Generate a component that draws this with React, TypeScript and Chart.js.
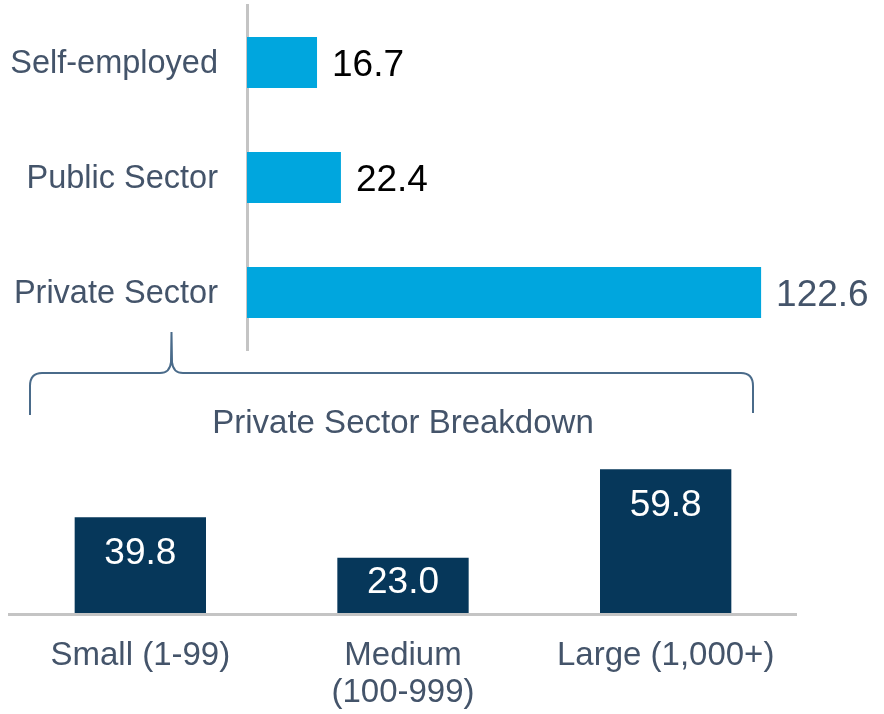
import React, { useEffect, useRef } from "react";
import { Chart, registerables } from "chart.js";

Chart.register(...registerables);

// ---- data ----
const sectorLabels = ["Self-employed", "Public Sector", "Private Sector"];
const sectorValues = [16.7, 22.4, 122.6];
const sectorValueColors = ["#000000", "#000000", "#44546A"];

const breakdownTitle = "Private Sector Breakdown";
const sizeLabels: (string | string[])[] = ["Small (1-99)", ["Medium", "(100-999)"], "Large (1,000+)"];
const sizeValues = [39.8, 23.0, 59.8];

// ---- styles ----
const FONT = "'Liberation Sans', Arial, sans-serif";
const TEXT = "#44546A";
const TOP_BAR = "#00A6DE";
const BOTTOM_BAR = "#06375A";
const AXIS = "#C4C4C4";
const BRACE = "#4A6B8A";
const VALUE_SIZE = 37;

const topValueLabels = {
  id: "topValueLabels",
  afterDatasetsDraw(chart: any) {
    const { ctx } = chart;
    const meta = chart.getDatasetMeta(0);
    ctx.save();
    ctx.font = `${VALUE_SIZE}px ${FONT}`;
    ctx.textAlign = "left";
    ctx.textBaseline = "alphabetic";
    meta.data.forEach((bar: any, i: number) => {
      ctx.fillStyle = sectorValueColors[i];
      ctx.fillText(sectorValues[i].toFixed(1), bar.x + 15, bar.y + VALUE_SIZE * 0.358);
    });
    ctx.restore();
  },
};

const bottomDecor = {
  id: "bottomDecor",
  beforeDatasetsDraw(chart: any) {
    const { ctx, chartArea, scales } = chart;
    const y0 = scales.y.getPixelForValue(0);
    ctx.save();
    ctx.strokeStyle = AXIS;
    ctx.lineWidth = 3;
    ctx.beginPath();
    ctx.moveTo(chartArea.left - 1, y0 + 1.5);
    ctx.lineTo(chartArea.right, y0 + 1.5);
    ctx.stroke();
    ctx.restore();
  },
  afterDatasetsDraw(chart: any) {
    const { ctx } = chart;
    const meta = chart.getDatasetMeta(0);
    ctx.save();
    ctx.font = `${VALUE_SIZE}px ${FONT}`;
    ctx.textAlign = "center";
    ctx.textBaseline = "alphabetic";
    ctx.fillStyle = "#FFFFFF";
    meta.data.forEach((bar: any, i: number) => {
      const h = bar.base - bar.y;
      const cy = bar.y + Math.min(33, h * 0.4);
      ctx.fillText(sizeValues[i].toFixed(1), bar.x, cy + VALUE_SIZE * 0.358);
    });
    ctx.restore();
  },
  afterDraw(chart: any) {
    const { ctx } = chart;
    // curly brace pointing at "Private Sector"
    ctx.save();
    ctx.strokeStyle = BRACE;
    ctx.lineWidth = 2;
    ctx.lineJoin = "round";
    ctx.beginPath();
    ctx.moveTo(30, 95);
    ctx.lineTo(30, 66);
    ctx.quadraticCurveTo(30, 53, 42, 53);
    ctx.lineTo(160, 53);
    ctx.quadraticCurveTo(170, 53, 171, 42);
    ctx.lineTo(171.5, 12);
    ctx.moveTo(171.5, 12);
    ctx.lineTo(172, 42);
    ctx.quadraticCurveTo(173, 53, 183, 53);
    ctx.lineTo(741, 53);
    ctx.quadraticCurveTo(753, 53, 753, 66);
    ctx.lineTo(753, 93);
    ctx.stroke();
    ctx.restore();
  },
};

export default function App() {
  const topRef = useRef<HTMLCanvasElement>(null);
  const botRef = useRef<HTMLCanvasElement>(null);

  useEffect(() => {
    const top = new Chart(topRef.current as HTMLCanvasElement, {
      type: "bar",
      data: {
        labels: sectorLabels,
        datasets: [
          {
            data: sectorValues,
            backgroundColor: TOP_BAR,
            barPercentage: 0.5,
            categoryPercentage: 0.887,
          },
        ],
      },
      options: {
        indexAxis: "y",
        responsive: false,
        animation: false,
        layout: { padding: { top: 5, bottom: 5, left: 0, right: 8 } },
        plugins: { legend: { display: false }, tooltip: { enabled: false } },
        scales: {
          x: { display: false, min: 0, max: 150 },
          y: {
            grid: { display: false, drawTicks: false },
            border: { display: true, color: AXIS, width: 3 },
            ticks: {
              color: TEXT,
              font: { family: FONT, size: 32.5 },
              padding: 29,
              labelOffset: 2,
            },
            afterFit: (s: any) => {
              s.width = 247;
              s.paddingTop = 0;
              s.paddingBottom = 0;
            },
          },
        },
      } as any,
      plugins: [topValueLabels],
    });

    const bottom = new Chart(botRef.current as HTMLCanvasElement, {
      type: "bar",
      data: {
        labels: sizeLabels,
        datasets: [
          {
            data: sizeValues,
            backgroundColor: BOTTOM_BAR,
            barPercentage: 0.5,
            categoryPercentage: 1,
          },
        ],
      },
      options: {
        responsive: false,
        animation: false,
        layout: { padding: { left: 9, right: 87, top: 0, bottom: 0 } },
        plugins: {
          legend: { display: false },
          tooltip: { enabled: false },
          title: {
            display: true,
            text: breakdownTitle,
            fullSize: false,
            color: TEXT,
            font: { family: FONT, size: 33, weight: "normal", lineHeight: 1.2 },
            padding: { top: 84, bottom: 18 },
          },
        },
        scales: {
          x: {
            grid: { display: false, drawTicks: false },
            border: { display: false },
            ticks: {
              color: TEXT,
              font: { family: FONT, size: 33, lineHeight: 1.1 },
              padding: 25,
              maxRotation: 0,
              autoSkip: false,
            },
            afterFit: (s: any) => {
              s.height = 101;
            },
          },
          y: { display: false, min: 0, max: 63 },
        },
      } as any,
      plugins: [bottomDecor],
    });

    return () => {
      top.destroy();
      bottom.destroy();
    };
  }, []);

  return (
    <div
      style={{
        position: "absolute",
        left: 0,
        top: 0,
        width: 884,
        height: 714,
        background: "#FFFFFF",
        overflow: "hidden",
      }}
    >
      <canvas ref={topRef} width={884} height={355} style={{ position: "absolute", left: 0, top: 0 }} />
      <canvas ref={botRef} width={884} height={394} style={{ position: "absolute", left: 0, top: 320 }} />
    </div>
  );
}
